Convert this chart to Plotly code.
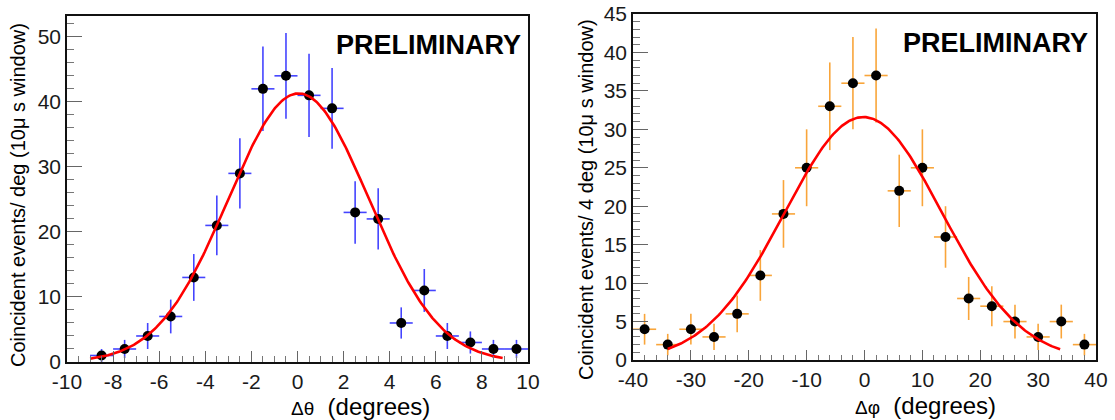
import numpy as np
import plotly.graph_objects as go

# ---------------- data ----------------
theta_centers = [-8.5, -7.5, -6.5, -5.5, -4.5, -3.5, -2.5, -1.5, -0.5, 0.5,
                 1.5, 2.5, 3.5, 4.5, 5.5, 6.5, 7.5, 8.5, 9.5]
theta_counts = [1, 2, 4, 7, 13, 21, 29, 42, 44, 41, 39, 23, 22, 6, 11, 4, 3, 2, 2]
theta_err = [1.0, 1.4, 2.0, 2.6, 3.6, 4.6, 5.4, 6.5, 6.6, 6.4, 6.2, 4.8, 4.7,
             2.4, 3.3, 2.0, 1.7, 1.4, 1.4]
theta_halfbin = 0.5
theta_fit = dict(amp=41.3, mean=0.05, sigma=3.05, lo=-9.0, hi=8.9)

phi_centers = [-38, -34, -30, -26, -22, -18, -14, -10, -6, -2,
               2, 6, 10, 14, 18, 22, 26, 30, 34, 38]
phi_counts = [4, 2, 4, 3, 6, 11, 19, 25, 33, 36, 37, 22, 25, 16, 8, 7, 5, 3, 5, 2]
phi_err = [2.0, 1.4, 2.0, 1.7, 2.4, 3.3, 4.4, 5.0, 5.7, 6.0, 6.1, 4.7, 5.0,
           4.0, 2.8, 2.6, 2.2, 1.7, 2.2, 1.4]
phi_halfbin = 2.0
phi_fit = dict(amp=31.6, mean=-0.2, sigma=13.6, lo=-34.0, hi=33.8)

theta_xticks = [-10, -8, -6, -4, -2, 0, 2, 4, 6, 8, 10]
theta_yticks = [0, 10, 20, 30, 40, 50]
phi_xticks = [-40, -30, -20, -10, 0, 10, 20, 30, 40]
phi_yticks = [0, 5, 10, 15, 20, 25, 30, 35, 40, 45]

# ---------------- figure ----------------
W, H = 1115, 420
FONT = "Liberation Sans, Arial, Helvetica, sans-serif"
BLUE = "#4444ff"
ORANGE = "#f9a53a"


def gauss_curve(p):
    x = np.linspace(p["lo"], p["hi"], 300)
    y = p["amp"] * np.exp(-0.5 * ((x - p["mean"]) / p["sigma"]) ** 2)
    return x, y


fig = go.Figure()

fig.add_trace(go.Scatter(
    x=theta_centers, y=theta_counts, mode="markers",
    marker=dict(color="black", size=10),
    error_x=dict(type="constant", value=theta_halfbin, color=BLUE, thickness=1.6, width=0),
    error_y=dict(type="data", array=theta_err, color=BLUE, thickness=1.6, width=0),
    xaxis="x", yaxis="y", showlegend=False, cliponaxis=False))
tx, ty = gauss_curve(theta_fit)
fig.add_trace(go.Scatter(x=tx, y=ty, mode="lines", line=dict(color="#ff0000", width=2.6),
                         xaxis="x", yaxis="y", showlegend=False))

fig.add_trace(go.Scatter(
    x=phi_centers, y=phi_counts, mode="markers",
    marker=dict(color="black", size=10),
    error_x=dict(type="constant", value=phi_halfbin, color=ORANGE, thickness=1.6, width=0),
    error_y=dict(type="data", array=phi_err, color=ORANGE, thickness=1.6, width=0),
    xaxis="x2", yaxis="y2", showlegend=False, cliponaxis=False))
px_, py_ = gauss_curve(phi_fit)
fig.add_trace(go.Scatter(x=px_, y=py_, mode="lines", line=dict(color="#ff0000", width=2.6),
                         xaxis="x2", yaxis="y2", showlegend=False))


def axis(domain, rng, ticks, major_len, minor_dtick, minor_len, anchor, standoff):
    return dict(
        domain=domain, range=rng, anchor=anchor, automargin=False,
        tickmode="array", tickvals=ticks, ticktext=[str(t) for t in ticks],
        ticks="inside", ticklen=major_len, tickwidth=1.2, tickcolor="#666",
        ticklabelstandoff=standoff,
        minor=dict(ticks="inside", ticklen=minor_len, dtick=minor_dtick,
                   tick0=rng[0], tickcolor="#777", tickwidth=1.1),
        showline=True, linecolor="#111", linewidth=1.6, mirror=True,
        showgrid=False, zeroline=False,
        tickfont=dict(family=FONT, size=21, color="#1a1a1a"),
    )


fig.update_layout(
    width=W, height=H, margin=dict(l=0, r=0, t=0, b=0, pad=0),
    paper_bgcolor="white", plot_bgcolor="white",
    xaxis=axis([67 / W, 528 / W], [-10, 10], theta_xticks, 11, 0.5, 6, "y", 0),
    yaxis=axis([1 - 362 / H, 1 - 16 / H], [0, 53.2], theta_yticks, 15, 2, 7, "x", 0),
    xaxis2=axis([633 / W, 1096 / W], [-40, 40], phi_xticks, 10, 2, 5, "y2", 0),
    yaxis2=axis([1 - 360 / H, 1 - 14 / H], [0, 45], phi_yticks, 15, 1, 7, "x2", 0),
)

annots = [
    dict(x=18 / W, y=1 - 195 / H, text="Coincident events/ deg (10μ s window)",
         textangle=-90, font=dict(size=20)),
    dict(x=586 / W, y=1 - 200 / H, text="Coincident events/ 4 deg (10μ s window)",
         textangle=-90, font=dict(size=20)),
    dict(x=360 / W, y=1 - 406 / H,
         text="<span style='font-size:19px'>Δθ</span>\u00a0\u00a0(degrees)",
         font=dict(size=24)),
    dict(x=925 / W, y=1 - 405 / H,
         text="<span style='font-size:19px'>Δφ</span>\u00a0\u00a0(degrees)",
         font=dict(size=24)),
    dict(x=428 / W, y=1 - 45 / H, text="<b>PRELIMINARY</b>", font=dict(size=27)),
    dict(x=995 / W, y=1 - 43 / H, text="<b>PRELIMINARY</b>", font=dict(size=27)),
]
for a in annots:
    a.update(xref="paper", yref="paper", showarrow=False, xanchor="center", yanchor="middle")
    a["font"].update(family=FONT, color="black")
fig.update_layout(annotations=annots)

fig.write_html("out.html")
